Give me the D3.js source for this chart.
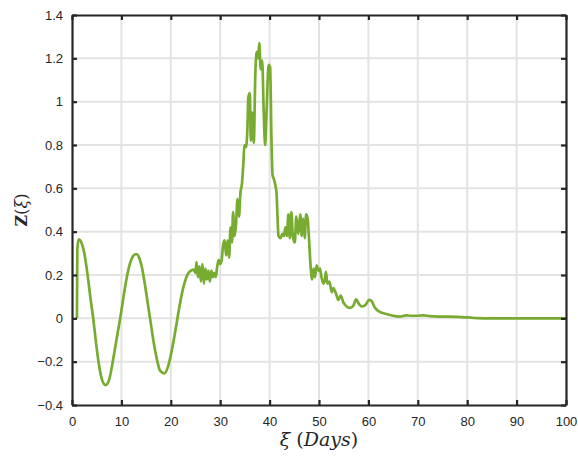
<!DOCTYPE html>
<html>
<head>
<meta charset="utf-8">
<script src="https://cdn.jsdelivr.net/npm/d3@7"></script>
<style>
  body { margin: 0; background: #fff; }
  svg { display: block; }
  .tick text { font-family: "Liberation Sans", Arial, sans-serif; font-size: 13px; fill: #262626; }
</style>
</head>
<body>
<div id="chart"></div>
<script>
'use strict';

// Z(xi) against xi, in days
const days = [
    1.0, 1.08, 1.35, 1.9, 2.5, 3.1, 3.7, 4.3, 4.9, 5.5, 6.1, 6.8, 7.5, 8.1, 8.7, 9.3, 9.9,
    10.5, 11.1, 11.7, 12.3, 13.0, 13.6, 14.2, 14.8, 15.4, 16.0, 16.6, 17.2, 17.8, 18.7,
    19.4, 20.0, 20.6, 21.2, 21.8, 22.4, 23.0, 23.6, 24.2, 24.6,
    25.0, 25.2, 25.5, 25.8, 26.1, 26.4, 26.7, 27.0, 27.3, 27.6, 27.9, 28.2, 28.5, 28.8,
    29.1, 29.4, 29.7, 30.0, 30.3, 30.6, 30.9, 31.2, 31.5, 31.8, 32.1, 32.4, 32.6, 32.9,
    33.2, 33.5, 33.8, 34.1, 34.4, 34.7, 34.9, 35.2, 35.5, 35.7, 36.0, 36.2, 36.5, 36.8,
    37.1, 37.4, 37.7, 37.9, 38.2, 38.5, 38.8, 39.1, 39.4, 39.8, 40.1, 40.4, 40.6, 40.9,
    41.2, 41.4, 41.6, 41.8, 42.2, 42.6, 42.9, 43.2, 43.5, 43.8, 44.1, 44.4, 44.7, 45.1,
    45.4, 45.8, 46.2, 46.5, 46.8, 47.1, 47.4, 47.7, 48.0, 48.3, 48.6, 48.9, 49.2, 49.5,
    49.9, 50.2, 50.5, 50.9, 51.2, 51.4, 51.7, 52.1, 52.6, 52.9, 53.5, 53.9, 54.4, 54.9,
    55.6, 56.3, 57.0, 57.5, 58.0, 58.6, 59.3, 60.2, 60.7, 61.3, 62.3, 63.6, 65.0, 66.3,
    67.7, 68.5, 69.8, 71.1, 72.5, 74.5, 77.9, 80.3, 82.0, 85, 90, 95, 100
];
const zValues = [
    0, 0.32, 0.365, 0.35, 0.30, 0.21, 0.10, 0.0, -0.12, -0.22, -0.285, -0.308, -0.285, -0.22, -0.14, -0.06, 0.02,
    0.11, 0.19, 0.25, 0.285, 0.297, 0.28, 0.23, 0.15, 0.06, -0.03, -0.12, -0.19, -0.24, -0.254,
    -0.225, -0.17, -0.10, -0.02, 0.06, 0.13, 0.18, 0.21, 0.222, 0.225,
    0.21, 0.26, 0.19, 0.24, 0.17, 0.25, 0.16, 0.23, 0.18, 0.22, 0.17, 0.22, 0.19, 0.21,
    0.19, 0.24, 0.27, 0.25, 0.27, 0.34, 0.36, 0.29, 0.36, 0.28, 0.42, 0.35, 0.49, 0.38,
    0.43, 0.55, 0.47, 0.58, 0.62, 0.72, 0.80, 0.79, 0.87, 1.02, 1.04, 0.82, 0.95, 0.81,
    1.12, 1.23, 1.20, 1.27, 1.15, 1.19, 0.96, 0.80, 0.96, 1.17, 1.16, 0.80, 0.66, 0.64,
    0.61, 0.58, 0.47, 0.38, 0.37, 0.39, 0.38, 0.42, 0.38, 0.48, 0.37, 0.49, 0.38, 0.35,
    0.47, 0.39, 0.48, 0.38, 0.46, 0.37, 0.48, 0.46, 0.36, 0.24, 0.18, 0.23, 0.19, 0.245,
    0.22, 0.23, 0.19, 0.16, 0.18, 0.215, 0.16, 0.17, 0.12, 0.14, 0.11, 0.085, 0.105, 0.075,
    0.055, 0.048, 0.06, 0.088, 0.07, 0.055, 0.06, 0.085, 0.078, 0.05, 0.03, 0.02, 0.012, 0.008,
    0.014, 0.012, 0.012, 0.014, 0.01, 0.008, 0.007, 0.004, 0.001, 0, 0, 0, 0
];
const xTicks = [0, 10, 20, 30, 40, 50, 60, 70, 80, 90, 100];
const yTicks = [-0.4, -0.2, 0, 0.2, 0.4, 0.6, 0.8, 1, 1.2, 1.4];

const width = 578, height = 457,
    margin = {top: 15, right: 12, bottom: 52, left: 72},
    axisColor = '#262626',
    gridColor = '#e3e3e3',
    lineColor = '#77ac30';

const svg = d3.select('#chart')
    .append('svg')
    .attr('width', width)
    .attr('height', height);

const x = d3.scaleLinear().domain([0, 100]).range([margin.left, width - margin.right]),
    y = d3.scaleLinear().domain([-0.4, 1.4]).range([height - margin.bottom, margin.top]);

// grid
svg.append('g')
    .selectAll('line')
    .data(xTicks.slice(1, -1))
    .join('line')
    .attr('x1', d => x(d)).attr('x2', d => x(d))
    .attr('y1', y(-0.4)).attr('y2', y(1.4))
    .attr('stroke', gridColor).attr('stroke-width', 2);

svg.append('g')
    .selectAll('line')
    .data(yTicks.slice(1, -1))
    .join('line')
    .attr('x1', x(0)).attr('x2', x(100))
    .attr('y1', d => y(d)).attr('y2', d => y(d))
    .attr('stroke', gridColor).attr('stroke-width', 2);

// curve
const points = days.map((d, i) => [d, zValues[i]]);
svg.append('path')
    .datum(points)
    .attr('fill', 'none')
    .attr('stroke', lineColor)
    .attr('stroke-width', 2.7)
    .attr('stroke-linejoin', 'round')
    .attr('d', d3.line()
        .x(d => x(d[0]))
        .y(d => y(d[1]))
        .curve(d3.curveMonotoneX));

// axes, ticks pointing inward on all four sides
const fmt = d => d3.format('')(+d.toFixed(1));
function styleAxis(g) {
    g.select('.domain').attr('stroke', axisColor).attr('stroke-width', 2.2);
    g.selectAll('.tick line').attr('stroke', axisColor).attr('stroke-width', 2.2);
}

svg.append('g')
    .attr('transform', 'translate(0,' + y(-0.4) + ')')
    .call(d3.axisBottom(x).tickValues(xTicks).tickSize(-5).tickPadding(12).tickSizeOuter(0))
    .call(styleAxis);

svg.append('g')
    .attr('transform', 'translate(0,' + y(1.4) + ')')
    .call(d3.axisTop(x).tickValues(xTicks).tickSize(-5).tickFormat('').tickSizeOuter(0))
    .call(styleAxis);

svg.append('g')
    .attr('transform', 'translate(' + x(0) + ',0)')
    .call(d3.axisLeft(y).tickValues(yTicks).tickSize(-5).tickPadding(9).tickFormat(fmt).tickSizeOuter(0))
    .call(styleAxis);

svg.append('g')
    .attr('transform', 'translate(' + x(100) + ',0)')
    .call(d3.axisRight(y).tickValues(yTicks).tickSize(-5).tickFormat('').tickSizeOuter(0))
    .call(styleAxis);

// axis titles
const xLabel = svg.append('text')
    .attr('x', (x(0) + x(100)) / 2)
    .attr('y', 446)
    .attr('text-anchor', 'middle')
    .style('font-family', '"DejaVu Serif", "Liberation Serif", serif')
    .style('font-size', '19px')
    .style('font-style', 'italic')
    .attr('fill', axisColor);
xLabel.append('tspan').text('ξ ');
xLabel.append('tspan').style('font-style', 'normal').text('(');
xLabel.append('tspan').text('Days');
xLabel.append('tspan').style('font-style', 'normal').text(')');

const yLabel = svg.append('text')
    .attr('transform', 'translate(27,' + ((y(-0.4) + y(1.4)) / 2) + ') rotate(-90)')
    .attr('text-anchor', 'middle')
    .style('font-family', '"DejaVu Serif", "Liberation Serif", serif')
    .style('font-size', '16px')
    .attr('fill', axisColor);
yLabel.append('tspan').style('font-weight', 'bold').text('Z');
yLabel.append('tspan').text('(');
yLabel.append('tspan').style('font-style', 'italic').text('ξ');
yLabel.append('tspan').text(')');
</script>
</body>
</html>
